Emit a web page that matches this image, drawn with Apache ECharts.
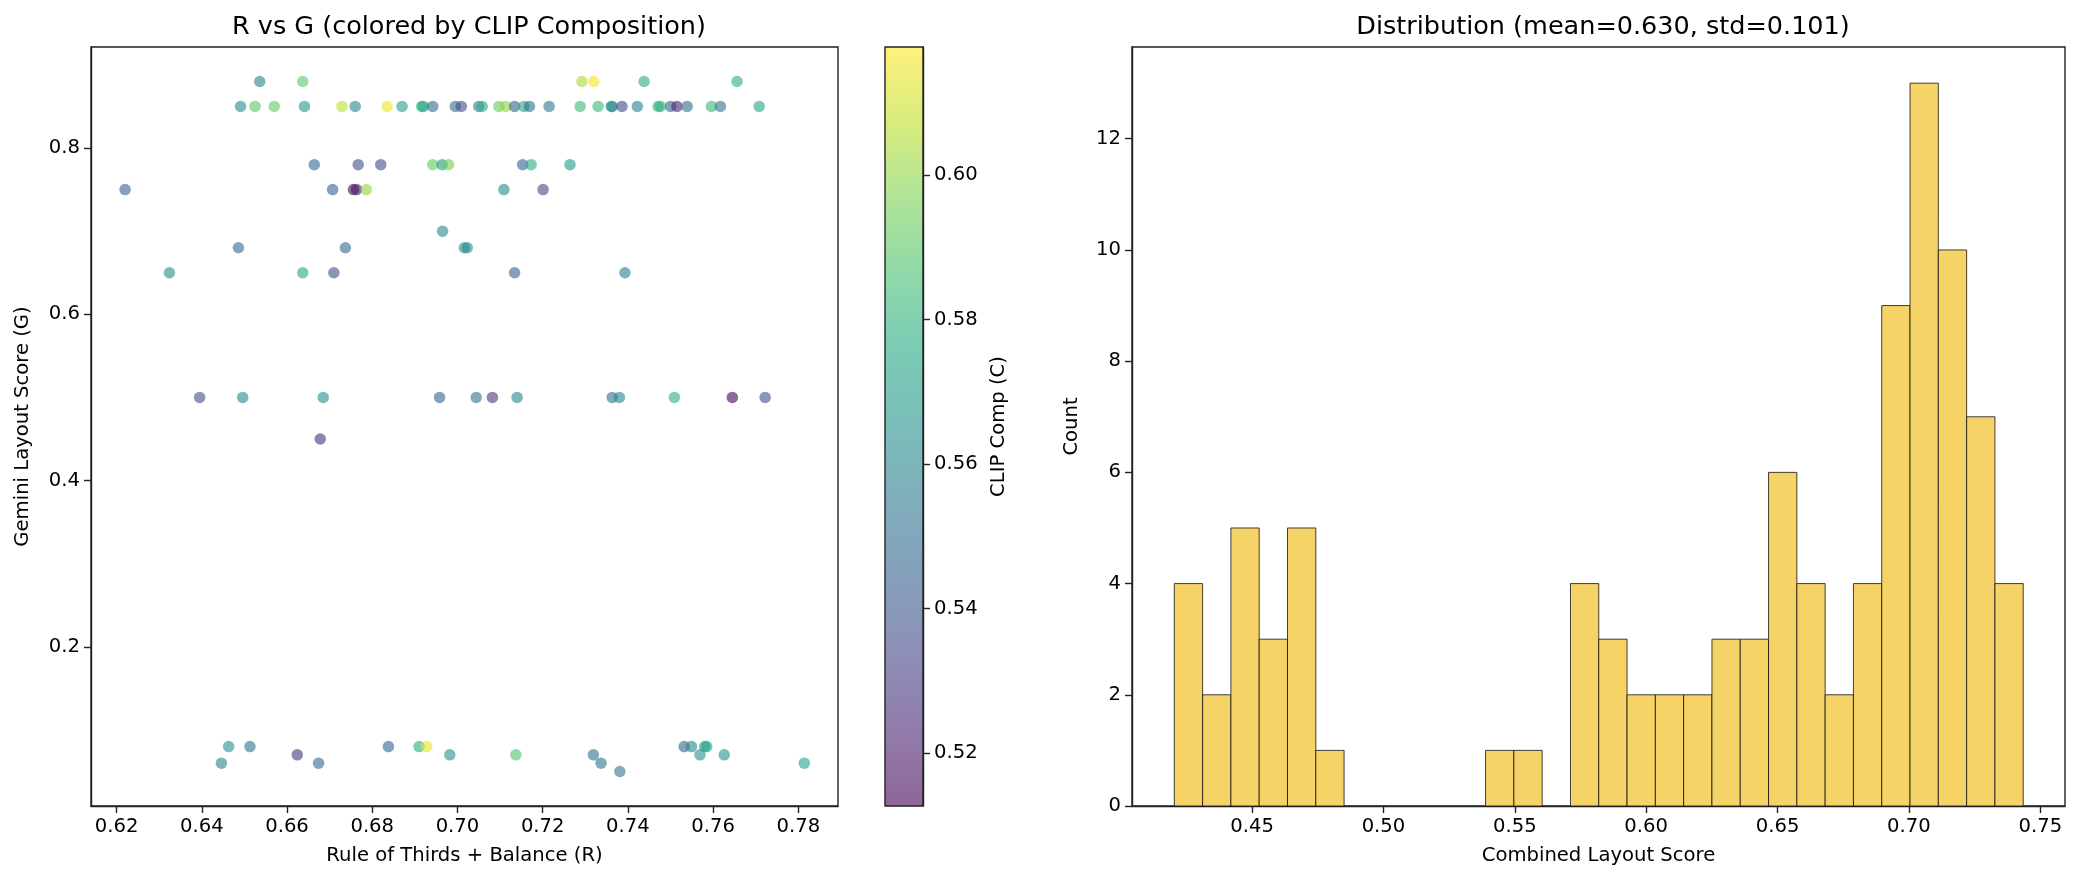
<!DOCTYPE html>
<html>
<head>
<meta charset="utf-8">
<title>R vs G / Distribution</title>
<script src="https://cdn.jsdelivr.net/npm/echarts@6/dist/echarts.min.js"></script>
<style>
html, body { margin: 0; padding: 0; background: #fff; }
#main { width: 2080px; height: 884px; }
</style>
</head>
<body>
<div id="main"></div>
<script>
// scatter: R (x), G (y), CLIP comp (colour)
var rScore = [
    0.6536, 0.6637, 0.7292, 0.7320, 0.7438, 0.7656,
    0.6491, 0.6525, 0.6570, 0.6641, 0.6729, 0.6760, 0.6835, 0.6870, 0.6916, 0.6920,
    0.6942, 0.6995, 0.7009, 0.7050, 0.7058, 0.7097, 0.7113, 0.7134, 0.7156, 0.7169,
    0.7215, 0.7288, 0.7330, 0.7361, 0.7363, 0.7386, 0.7422, 0.7471, 0.7476, 0.7500,
    0.7515, 0.7539, 0.7596, 0.7617, 0.7708,
    0.6664, 0.6767, 0.6820, 0.6942, 0.6964, 0.6979, 0.7153, 0.7173, 0.7264,
    0.6220, 0.6707, 0.6756, 0.6763, 0.6786, 0.7109, 0.7201,
    0.6965,
    0.6486, 0.6737, 0.7016, 0.7023,
    0.6324, 0.6637, 0.6710, 0.7134, 0.7393,
    0.6395, 0.6496, 0.6685, 0.6958, 0.7044, 0.7082, 0.7140, 0.7363, 0.7380, 0.7509, 0.7645, 0.7722,
    0.6678,
    0.6463, 0.6513, 0.6624, 0.6446, 0.6674, 0.6838, 0.6910, 0.6928, 0.6982, 0.7137,
    0.7319, 0.7337, 0.7381, 0.7532, 0.7549, 0.7580, 0.7585, 0.7569, 0.7626, 0.7814
];
var gScore = [
    0.88, 0.88, 0.88, 0.88, 0.88, 0.88,
    0.85, 0.85, 0.85, 0.85, 0.85, 0.85, 0.85, 0.85, 0.85, 0.85,
    0.85, 0.85, 0.85, 0.85, 0.85, 0.85, 0.85, 0.85, 0.85, 0.85,
    0.85, 0.85, 0.85, 0.85, 0.85, 0.85, 0.85, 0.85, 0.85, 0.85,
    0.85, 0.85, 0.85, 0.85, 0.85,
    0.78, 0.78, 0.78, 0.78, 0.78, 0.78, 0.78, 0.78, 0.78,
    0.75, 0.75, 0.75, 0.75, 0.75, 0.75, 0.75,
    0.70,
    0.68, 0.68, 0.68, 0.68,
    0.65, 0.65, 0.65, 0.65, 0.65,
    0.50, 0.50, 0.50, 0.50, 0.50, 0.50, 0.50, 0.50, 0.50, 0.50, 0.50, 0.50,
    0.45,
    0.08, 0.08, 0.07, 0.06, 0.06, 0.08, 0.08, 0.08, 0.07, 0.07,
    0.07, 0.06, 0.05, 0.08, 0.08, 0.08, 0.08, 0.07, 0.07, 0.06
];
var clipComp = [
    0.560, 0.590, 0.604, 0.616, 0.578, 0.578,
    0.563, 0.590, 0.592, 0.568, 0.606, 0.562, 0.615, 0.570, 0.578, 0.576,
    0.550, 0.550, 0.537, 0.553, 0.578, 0.592, 0.600, 0.545, 0.575, 0.552,
    0.553, 0.583, 0.582, 0.570, 0.560, 0.535, 0.558, 0.580, 0.580, 0.545,
    0.522, 0.550, 0.582, 0.552, 0.575,
    0.548, 0.538, 0.535, 0.592, 0.568, 0.595, 0.545, 0.578, 0.568,
    0.545, 0.545, 0.515, 0.520, 0.600, 0.562, 0.535,
    0.563,
    0.548, 0.548, 0.567, 0.562,
    0.563, 0.575, 0.538, 0.545, 0.557,
    0.538, 0.562, 0.565, 0.545, 0.552, 0.530, 0.560, 0.552, 0.562, 0.578, 0.513, 0.538,
    0.527,
    0.565, 0.552, 0.528, 0.560, 0.548, 0.545, 0.578, 0.615, 0.565, 0.588,
    0.552, 0.552, 0.553, 0.545, 0.562, 0.575, 0.572, 0.565, 0.565, 0.572
];

// histogram of combined score (30 bins)
var binStart = 0.4204;
var binWidth = 0.01077;
var binCounts = [4, 2, 5, 3, 5, 1, 0, 0, 0, 0, 0, 1, 1, 0, 4, 3, 2, 2, 2, 3, 3, 6, 4, 2, 4, 9, 13, 10, 7, 4];

// tick labels
var rTicks = [0.62, 0.64, 0.66, 0.68, 0.70, 0.72, 0.74, 0.76, 0.78];
var gTicks = [0.2, 0.4, 0.6, 0.8];
var cTicks = [0.52, 0.54, 0.56, 0.58, 0.60];
var scoreTicks = [0.45, 0.50, 0.55, 0.60, 0.65, 0.70, 0.75];
var countTicks = [0, 2, 4, 6, 8, 10, 12];

var viridis = ['#440154', '#482475', '#414487', '#355f8d', '#2a788e', '#21918c',
    '#22a884', '#44bf70', '#7ad151', '#bddf26', '#fde725'];

var cMin = 0.5127, cMax = 0.6177;

var scatterData = rScore.map(function (r, i) {
    return [r, gScore[i], clipComp[i]];
});
var histData = binCounts.map(function (c, i) {
    return [binStart + i * binWidth, binStart + (i + 1) * binWidth, c];
});

var font = 'DejaVu Sans';
var lineCol = '#222';
var fs = 19.6;
var nameStyle = {color: '#000', fontSize: fs, fontFamily: font};
var titleStyle = {fontSize: 25.5, fontWeight: 'normal', fontFamily: font, color: '#000'};

function valueAxis(o) {
    return {
        type: 'value',
        gridIndex: o.grid,
        min: o.min,
        max: o.max,
        position: o.position,
        splitLine: {show: false},
        axisLine: {show: true, onZero: false, lineStyle: {color: lineCol, width: 1.4}},
        axisTick: {show: true, length: 7, customValues: o.ticks, lineStyle: {color: lineCol, width: 1.4}},
        axisLabel: {
            customValues: o.ticks, margin: 11,
            formatter: function (v) { return v.toFixed(o.dec); },
            color: '#000', fontSize: fs, fontFamily: font
        },
        name: o.name,
        nameLocation: 'middle',
        nameGap: o.gap,
        nameRotate: o.rotate,
        nameTextStyle: nameStyle
    };
}

var chart = echarts.init(document.getElementById('main'));
var option = {
    animation: false,
    backgroundColor: '#fff',
    title: [
        {text: 'R vs G (colored by CLIP Composition)', left: 464, top: 9, textAlign: 'center', textStyle: titleStyle},
        {text: 'Distribution (mean=0.630, std=0.101)', left: 1598, top: 9, textAlign: 'center', textStyle: titleStyle}
    ],
    grid: [
        {left: 91, top: 47, width: 747, height: 759, show: true, borderColor: lineCol, borderWidth: 1.4},
        {left: 885, top: 47, width: 38, height: 759},
        {left: 1132, top: 47, width: 933, height: 759, show: true, borderColor: lineCol, borderWidth: 1.4}
    ],
    xAxis: [
        valueAxis({grid: 0, min: 0.6140, max: 0.7893, ticks: rTicks, dec: 2,
            name: 'Rule of Thirds + Balance (R)', gap: 40}),
        {type: 'value', gridIndex: 1, min: 0, max: 1, show: false},
        valueAxis({grid: 2, min: 0.4043, max: 0.7594, ticks: scoreTicks, dec: 2,
            name: 'Combined Layout Score', gap: 40})
    ],
    yAxis: [
        valueAxis({grid: 0, min: 0.0085, max: 0.9215, ticks: gTicks, dec: 1,
            name: 'Gemini Layout Score (G)', gap: 58, rotate: 90}),
        valueAxis({grid: 1, min: cMin, max: cMax, ticks: cTicks, dec: 2, position: 'right',
            name: 'CLIP Comp (C)', gap: 66, rotate: 90}),
        valueAxis({grid: 2, min: 0, max: 13.65, ticks: countTicks, dec: 0,
            name: 'Count', gap: 50, rotate: 90})
    ],
    visualMap: {
        type: 'continuous',
        show: false,
        seriesIndex: 0,
        dimension: 2,
        min: cMin,
        max: cMax,
        inRange: {color: viridis}
    },
    series: [
        {
            type: 'scatter',
            xAxisIndex: 0,
            yAxisIndex: 0,
            symbolSize: 11.5,
            itemStyle: {opacity: 0.6},
            data: scatterData
        },
        // colorbar
        {
            type: 'custom',
            xAxisIndex: 1,
            yAxisIndex: 1,
            data: [[0, 1, cMin, cMax]],
            encode: {x: [0, 1], y: [2, 3]},
            renderItem: function (params, api) {
                var p0 = api.coord([api.value(0), api.value(3)]);
                var p1 = api.coord([api.value(1), api.value(2)]);
                var stops = viridis.map(function (c, i) {
                    return {offset: i / (viridis.length - 1), color: c};
                });
                var shape = {x: p0[0], y: p0[1], width: p1[0] - p0[0], height: p1[1] - p0[1]};
                return {
                    type: 'group',
                    children: [
                        {type: 'rect', shape: shape,
                            style: {fill: new echarts.graphic.LinearGradient(0, 1, 0, 0, stops), opacity: 0.6}},
                        {type: 'rect', shape: shape,
                            style: {fill: 'none', stroke: lineCol, lineWidth: 1.4}}
                    ]
                };
            }
        },
        // histogram
        {
            type: 'custom',
            xAxisIndex: 2,
            yAxisIndex: 2,
            data: histData,
            encode: {x: [0, 1], y: 2},
            renderItem: function (params, api) {
                if (api.value(2) <= 0) return null;
                var p0 = api.coord([api.value(0), api.value(2)]);
                var p1 = api.coord([api.value(1), 0]);
                return {
                    type: 'rect',
                    shape: {x: p0[0], y: p0[1], width: p1[0] - p0[0], height: p1[1] - p0[1]},
                    style: {fill: '#F5D367', stroke: '#111', lineWidth: 0.8}
                };
            }
        }
    ]
};
chart.setOption(option);
</script>
</body>
</html>
